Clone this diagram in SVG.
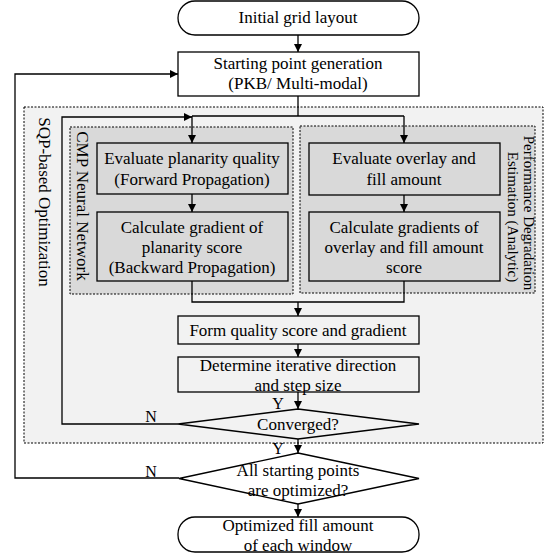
<svg xmlns="http://www.w3.org/2000/svg" width="548" height="556" viewBox="0 0 548 556">
<style>
text{font-family:"Liberation Serif","Times New Roman",serif;font-size:17px;fill:#000;text-anchor:middle}
.box{stroke:#000;stroke-width:1.3;fill:#fff}
.gray{fill:#d9d9d9}
.light{fill:#f2f2f2}
.dot{stroke:#000;stroke-width:1;stroke-dasharray:2 1.5;fill:none}
.line{stroke:#000;stroke-width:1.3;fill:none}
.small{font-size:15px}
.lbl{font-size:16px}
</style>
<defs>
<marker id="ah" markerUnits="userSpaceOnUse" markerWidth="8" markerHeight="8" refX="8" refY="4" orient="auto">
<path d="M0,0 L8,4 L0,8 z" fill="#000"/>
</marker>
</defs>
<g id="region-sqp">
<rect x="24" y="107" width="519" height="336" class="dot" style="fill:#f2f2f2"/>
<text transform="translate(39,202) rotate(90)">SQP-based Optimization</text>
</g>
<g id="region-cmp">
<rect x="70" y="127" width="223" height="167" class="dot" style="fill:#d9d9d9"/>
<text transform="translate(77,206) rotate(90)">CMP Neural Network</text>
</g>
<g id="region-pde">
<rect x="300" y="126" width="235" height="167" class="dot" style="fill:#d9d9d9"/>
<text class="small" transform="translate(524,213) rotate(90)">Performance Degradation</text>
<text class="small" transform="translate(508,217) rotate(90)">Estimation (Analytic)</text>
</g>
<g id="connectors">
<line class="line" x1="298" y1="35" x2="298" y2="52" marker-end="url(#ah)"/>
<polyline class="line" points="298,96 298,116"/>
<polyline class="line" points="192,116 404,116"/>
<line class="line" x1="192" y1="116" x2="192" y2="143" marker-end="url(#ah)"/>
<line class="line" x1="404" y1="116" x2="404" y2="143" marker-end="url(#ah)"/>
<line class="line" x1="192" y1="194" x2="192" y2="212" marker-end="url(#ah)"/>
<line class="line" x1="404" y1="195" x2="404" y2="212" marker-end="url(#ah)"/>
<polyline class="line" points="192,281 192,302 404,302 404,281"/>
<line class="line" x1="298" y1="302" x2="298" y2="316" marker-end="url(#ah)"/>
<line class="line" x1="298" y1="344" x2="298" y2="357" marker-end="url(#ah)"/>
<line class="line" x1="298" y1="392" x2="298" y2="409" marker-end="url(#ah)"/>
<polyline class="line" points="178,424 62,424 62,117 192,117" marker-end="url(#ah)"/>
<line class="line" x1="298" y1="439" x2="298" y2="453" marker-end="url(#ah)"/>
<polyline class="line" points="179,478 15,478 15,74 178,74" marker-end="url(#ah)"/>
<line class="line" x1="298" y1="504" x2="298" y2="517" marker-end="url(#ah)"/>
<text class="lbl" x="278" y="409">Y</text>
<text class="lbl" x="151" y="422">N</text>
<text class="lbl" x="278" y="454">Y</text>
<text class="lbl" x="151" y="477">N</text>
</g>
<g id="node-initial">
<rect class="box" x="178" y="1" width="241" height="34" rx="17" ry="17"/>
<text x="298" y="23">Initial grid layout</text>
</g>
<g id="node-start">
<rect class="box" x="178" y="52" width="241" height="44"/>
<text x="298" y="69">Starting point generation</text>
<text x="298" y="89">(PKB/ Multi-modal)</text>
</g>
<g id="node-eval-planarity">
<rect class="box gray" x="97" y="143" width="191" height="51"/>
<text x="192" y="164">Evaluate planarity quality</text>
<text x="192" y="185">(Forward Propagation)</text>
</g>
<g id="node-grad-planarity">
<rect class="box gray" x="97" y="212" width="191" height="69"/>
<text x="192" y="233">Calculate gradient of</text>
<text x="192" y="253">planarity score</text>
<text x="192" y="273">(Backward Propagation)</text>
</g>
<g id="node-eval-overlay">
<rect class="box gray" x="309" y="143" width="191" height="52"/>
<text x="404" y="164">Evaluate overlay and</text>
<text x="404" y="185">fill amount</text>
</g>
<g id="node-grad-overlay">
<rect class="box gray" x="309" y="212" width="191" height="69"/>
<text x="404" y="233">Calculate gradients of</text>
<text x="404" y="253">overlay and fill amount</text>
<text x="404" y="273">score</text>
</g>
<g id="node-form">
<rect class="box light" x="178" y="316" width="241" height="28"/>
<text x="298" y="336">Form quality score and gradient</text>
</g>
<g id="node-determine">
<rect class="box light" x="178" y="357" width="241" height="35"/>
<text x="298" y="371">Determine iterative direction</text>
<text x="298" y="391">and step size</text>
</g>
<g id="node-converged">
<polygon class="box light" points="298,409 419,424 298,439 178,424"/>
<text x="298" y="430">Converged?</text>
</g>
<g id="node-all">
<polygon class="box" points="298,453 419,478.5 298,504 179,478.5"/>
<text x="298" y="476">All starting points</text>
<text x="298" y="496">are optimized?</text>
</g>
<g id="node-end">
<rect class="box" x="178" y="517" width="241" height="35" rx="17" ry="17"/>
<text x="298" y="531">Optimized fill amount</text>
<text x="298" y="551">of each window</text>
</g>
</svg>
